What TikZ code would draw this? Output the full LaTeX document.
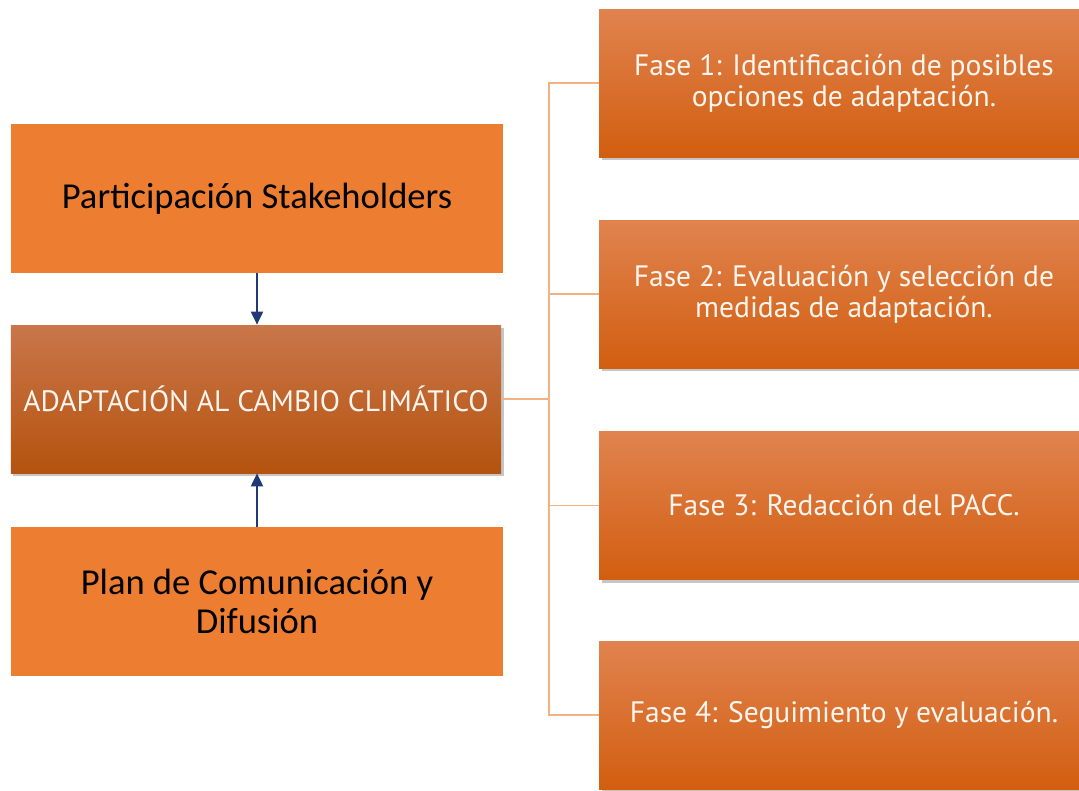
\documentclass[tikz,border=0pt]{standalone}
\usepackage{fontspec}
\setmainfont{PT Sans}
\newfontfamily\calfont{Carlito}
\usetikzlibrary{arrows.meta,shadows}

\definecolor{boxorange}{HTML}{ED7D31}
\definecolor{midtop}{HTML}{C9764A}
\definecolor{midbot}{HTML}{B5530F}
\definecolor{fasetop}{HTML}{E0834F}
\definecolor{fasebot}{HTML}{D25E10}
\definecolor{linkorange}{HTML}{F4B183}
\definecolor{arrownavy}{HTML}{1F3A74}
\definecolor{paletext}{HTML}{FDF5EE}

\tikzset{
	sidebox/.style={rectangle, fill=boxorange, minimum width=98.4mm, minimum height=29.8mm,
		align=center, font=\calfont\fontsize{20.8}{22}\selectfont, text=black},
	mainbox/.style={rectangle, top color=midtop, bottom color=midbot, minimum width=98mm,
		minimum height=29.6mm, drop shadow={opacity=0.45, shadow xshift=0.5mm, shadow yshift=-0.6mm},
		font=\fontsize{16.8}{18}\selectfont, text=paletext},
	fasebox/.style={rectangle, top color=fasetop, bottom color=fasebot, minimum width=98mm,
		minimum height=29.6mm, align=center,
		drop shadow={opacity=0.45, shadow xshift=0.5mm, shadow yshift=-0.6mm},
		font=\fontsize{16.8}{17.8}\selectfont, text=paletext},
	link/.style={draw=linkorange, line width=1.1pt},
	feed/.style={draw=arrownavy, line width=1.1pt, -{Triangle[length=2.6mm,width=2.4mm]}}
}

\begin{document}
\begin{tikzpicture}[x=0.2mm, y=-0.2mm]
	%%%%% START %%%%%
	
	\useasboundingbox (0, 0) rectangle (1079, 790);
	\clip (0, 0) rectangle (1079, 790);
	
	\node[sidebox] (stake) at (257, 198.5) {Participación Stakeholders};
	\node[mainbox] (adapt) at (256, 399) {ADAPTACIÓN AL CAMBIO CLIMÁTICO};
	\node[sidebox] (plan) at (257, 601.5) {Plan de Comunicación y\\Difusión};
	
	\draw[feed] (stake.south) -- (stake.south |- adapt.north);
	\draw[feed] (plan.north) -- (plan.north |- adapt.south);
	
	\node[fasebox] (f1) at (844, 83) {Fase 1: Identificación de posibles\\opciones de adaptación.};
	\node[fasebox] (f2) at (844, 294) {Fase 2: Evaluación y selección de\\medidas de adaptación.};
	\node[fasebox] (f3) at (844, 505.5) {Fase 3: Redacción del PACC.};
	\node[fasebox] (f4) at (844, 715) {Fase 4: Seguimiento y evaluación.};
	
	\coordinate (bus) at (549, 399);
	\draw[link] (adapt.east) -- (bus);
	\foreach \f in {f1, f2, f3, f4}
		\draw[link] (bus) |- (\f.west);
	
	%%%%% END %%%%%
\end{tikzpicture}
\end{document}
